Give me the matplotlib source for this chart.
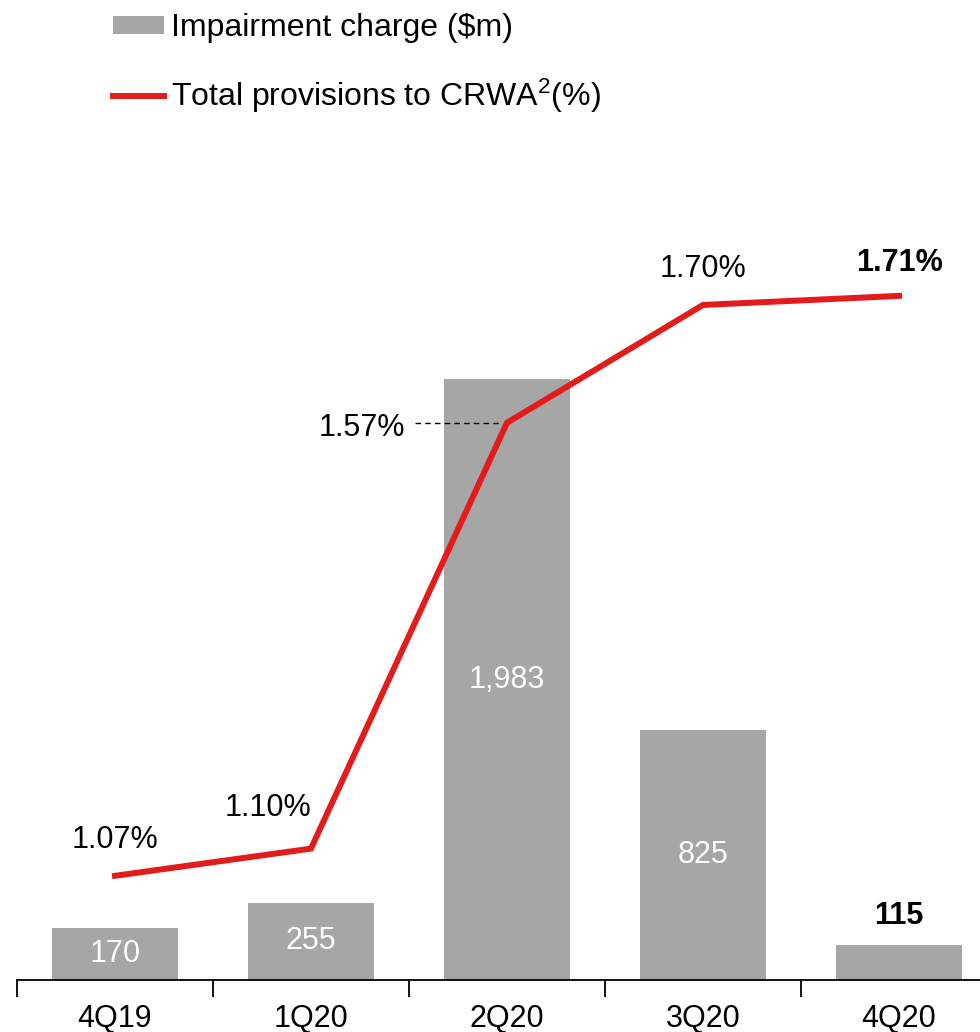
import numpy as np
import matplotlib
matplotlib.use("Agg")
import matplotlib.pyplot as plt
from matplotlib.patches import Patch
from matplotlib.lines import Line2D

# --- data ---
quarters = ["4Q19", "1Q20", "2Q20", "3Q20", "4Q20"]
impairment = [170, 255, 1983, 825, 115]
impairment_labels = ["170", "255", "1,983", "825", "115"]
provisions = [1.07, 1.10, 1.57, 1.70, 1.71]
provision_labels = ["1.07%", "1.10%", "1.57%", "1.70%", "1.71%"]

BAR = "#A6A6A6"
RED = "#E31B1B"

plt.rcParams["font.family"] = ["Liberation Sans", "DejaVu Sans"]
plt.rcParams["font.size"] = 22
plt.rcParams["mathtext.fontset"] = "custom"
plt.rcParams["mathtext.rm"] = "Liberation Sans"
plt.rcParams["mathtext.it"] = "Liberation Sans"

fig = plt.figure(figsize=(9.8, 10.32), dpi=100)
ax = fig.add_axes([17 / 980, 52 / 1032, 980 / 980, 830 / 1032])
x = np.arange(len(quarters))

ax.bar(x, impairment, width=0.64, color=BAR, zorder=1)
ax.set_xlim(-0.5, 4.5)
ax.set_ylim(0, 2739)
ax.set_yticks([])
for s in ["top", "right", "left"]:
    ax.spines[s].set_visible(False)
ax.spines["bottom"].set_linewidth(1.3)
ax.set_xticks(x)
ax.set_xticklabels(quarters)
ax.set_xticks(np.arange(-0.5, 4.6, 1), minor=True)
ax.tick_params(axis="x", which="major", length=0, pad=17)
ax.tick_params(axis="x", which="minor", length=12, width=1.3, direction="out")

# bar labels
for i, (v, lab) in enumerate(zip(impairment, impairment_labels)):
    if i == len(impairment) - 1:
        ax.annotate(lab, (i, v), xytext=(0, 21), textcoords="offset points",
                    ha="center", va="center", fontweight="bold", color="black")
    else:
        ax.text(i, v / 2, lab, ha="center", va="center", color="white")

# line on secondary axis
ax2 = ax.twinx()
ax2.set_ylim(0.955, 1.871)
ax2.axis("off")
ax2.plot(x, provisions, color=RED, lw=4.3, solid_joinstyle="miter", zorder=3)

offsets = [(0, 26), (-31, 29), (-73, -4), (0, 26), (0, 24)]
for i, (v, lab) in enumerate(zip(provisions, provision_labels)):
    ha = "right" if i == 2 else "center"
    fw = "bold" if i == len(provisions) - 1 else "normal"
    ax2.annotate(lab, (i, v), xytext=offsets[i], textcoords="offset points",
                 ha=ha, va="center", fontweight=fw)

# dashed leader for 2Q20
ax2.plot([1.53, 1.96], [provisions[2], provisions[2]], color="black", lw=1,
         ls=(0, (4, 3)), zorder=2)

handles = [Patch(facecolor=BAR, edgecolor="none"),
           Line2D([], [], color=RED, lw=4.3)]
fig.legend(handles, ["Impairment charge ($m)", "Total provisions to CRWA$^{2}$(%)"],
           loc="upper left", bbox_to_anchor=(113 / 980, 1 - 13 / 1032),
           frameon=False, borderpad=0, borderaxespad=0, handlelength=1.6,
           handleheight=0.5, handletextpad=0.22, labelspacing=1.05, fontsize=23)

fig.savefig("out.png", dpi=100)
